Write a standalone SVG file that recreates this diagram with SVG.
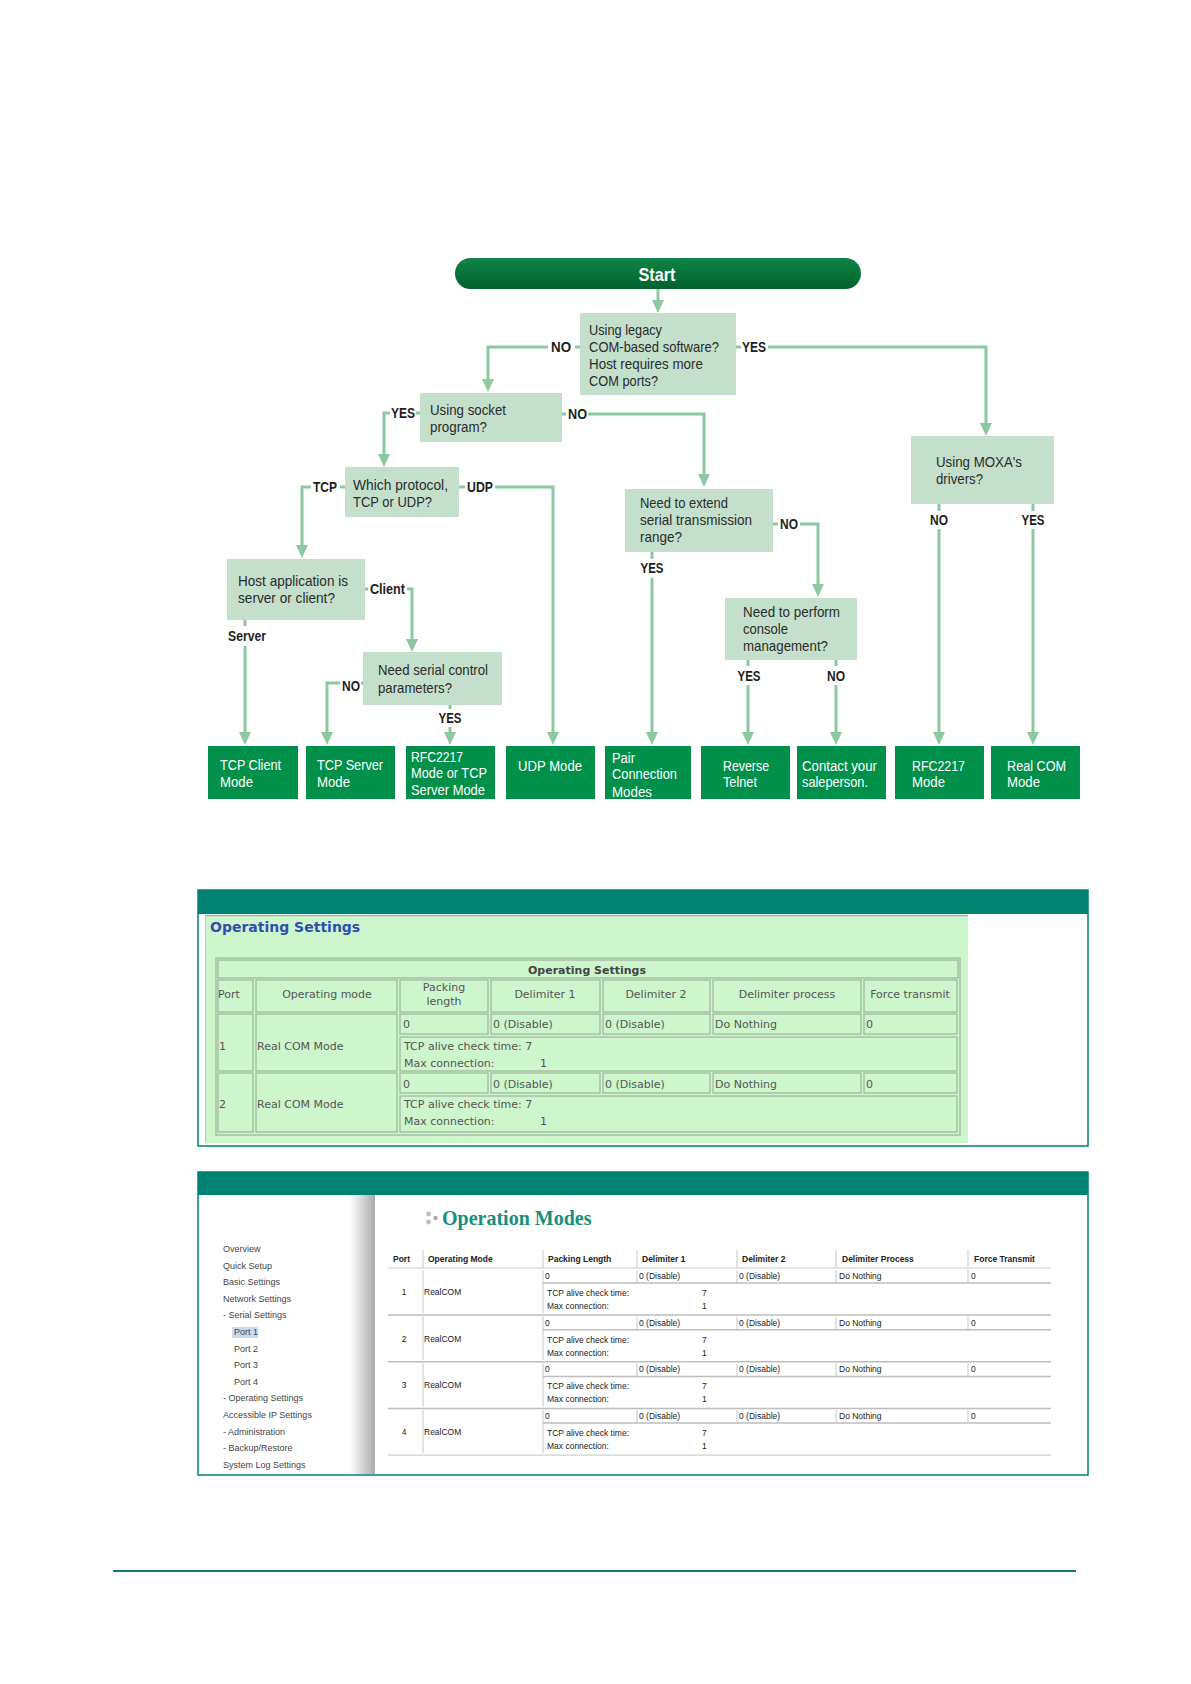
<svg xmlns="http://www.w3.org/2000/svg" width="1191" height="1684" viewBox="0 0 1191 1684">
<style>
.q{fill:#c4dfcb}
.qt{font-family:'Liberation Sans',Arial,sans-serif;font-size:15px;fill:#2b2b2b}
.lb{font-family:'Liberation Sans',Arial,sans-serif;font-size:14.5px;font-weight:bold;fill:#1e1e1e}
.r{fill:#00904a}
.rt{font-family:'Liberation Sans',Arial,sans-serif;font-size:15.5px;fill:#ffffff}
.c{fill:none;stroke:#8cc9a0;stroke-width:3}
.a{marker-end:url(#ah)}
.t1{font-family:'DejaVu Sans',sans-serif;font-size:11px;fill:#555}
.t1b{font-family:'DejaVu Sans',sans-serif;font-size:11px;font-weight:bold;fill:#444}
.cell{fill:none;stroke:#9fb39f;stroke-width:1.2}
.t2{font-family:'Liberation Sans',Arial,sans-serif;font-size:8.5px;fill:#222}
.t2b{font-family:'Liberation Sans',Arial,sans-serif;font-size:8.5px;font-weight:bold;fill:#222}
.sb{font-family:'Liberation Sans',Arial,sans-serif;font-size:9px;fill:#444}
.g2{stroke:#cfcfcf;stroke-width:1.2;fill:none}
.g3{stroke:#bdbdbd;stroke-width:1.5;fill:none}
</style>
<defs>
<marker id="ah" viewBox="0 0 13 12" refX="5" refY="6" markerWidth="13" markerHeight="12" markerUnits="userSpaceOnUse" orient="auto">
<path d="M0,0 L13,6 L0,12 z" fill="#8cc9a0"/>
</marker>
<linearGradient id="sg" x1="0" y1="0" x2="0" y2="1">
<stop offset="0" stop-color="#0f8445"/>
<stop offset="1" stop-color="#00622f"/>
</linearGradient>
<linearGradient id="sh" x1="0" y1="0" x2="1" y2="0">
<stop offset="0" stop-color="#ffffff"/>
<stop offset="1" stop-color="#a9a9a9"/>
</linearGradient>
</defs>
<rect x="0" y="0" width="1191" height="1684" fill="#ffffff"/>

<g id="connectors">
<path class="c a" d="M658,289 V305"/>
<path class="c" d="M580,347 H575"/>
<path class="c a" d="M548,347 H488 V384"/>
<path class="c" d="M736,347 H741"/>
<path class="c a" d="M768,347 H986 V428"/>
<path class="c" d="M420,413 H416"/>
<path class="c a" d="M390,413 H384 V459"/>
<path class="c" d="M562,414 H566"/>
<path class="c a" d="M588,414 H704 V479"/>
<path class="c" d="M345,487 H340"/>
<path class="c a" d="M311,487 H302 V550"/>
<path class="c" d="M459,487 H465"/>
<path class="c a" d="M495,487 H553 V737"/>
<path class="c" d="M365,589 H368"/>
<path class="c a" d="M407,589 H412 V644"/>
<path class="c" d="M245,620 V626"/>
<path class="c a" d="M245,646 V737"/>
<path class="c" d="M363,683 H361"/>
<path class="c a" d="M340,683 H327 V737"/>
<path class="c" d="M450,705 V709"/>
<path class="c a" d="M450,727 V737"/>
<path class="c" d="M773,524 H778"/>
<path class="c a" d="M800,524 H818 V589"/>
<path class="c" d="M652,552 V559"/>
<path class="c a" d="M652,578 V737"/>
<path class="c" d="M748,660 V666"/>
<path class="c a" d="M748,685 V737"/>
<path class="c" d="M836,660 V666"/>
<path class="c a" d="M836,685 V737"/>
<path class="c" d="M939,504 V511"/>
<path class="c a" d="M939,529 V737"/>
<path class="c" d="M1033,504 V511"/>
<path class="c a" d="M1033,529 V737"/>
<text class="lb" x="551" y="352" textLength="20" lengthAdjust="spacingAndGlyphs">NO</text>
<text class="lb" x="742" y="352" textLength="24" lengthAdjust="spacingAndGlyphs">YES</text>
<text class="lb" x="391" y="418" textLength="24" lengthAdjust="spacingAndGlyphs">YES</text>
<text class="lb" x="568" y="419" textLength="19" lengthAdjust="spacingAndGlyphs">NO</text>
<text class="lb" x="313" y="492" textLength="24" lengthAdjust="spacingAndGlyphs">TCP</text>
<text class="lb" x="467" y="492" textLength="26" lengthAdjust="spacingAndGlyphs">UDP</text>
<text class="lb" x="370" y="594" textLength="35" lengthAdjust="spacingAndGlyphs">Client</text>
<text class="lb" x="247" y="641" text-anchor="middle" textLength="38" lengthAdjust="spacingAndGlyphs">Server</text>
<text class="lb" x="342" y="691" textLength="18" lengthAdjust="spacingAndGlyphs">NO</text>
<text class="lb" x="450" y="723" text-anchor="middle" textLength="23" lengthAdjust="spacingAndGlyphs">YES</text>
<text class="lb" x="780" y="529" textLength="18" lengthAdjust="spacingAndGlyphs">NO</text>
<text class="lb" x="652" y="573" text-anchor="middle" textLength="23" lengthAdjust="spacingAndGlyphs">YES</text>
<text class="lb" x="749" y="681" text-anchor="middle" textLength="23" lengthAdjust="spacingAndGlyphs">YES</text>
<text class="lb" x="836" y="681" text-anchor="middle" textLength="18" lengthAdjust="spacingAndGlyphs">NO</text>
<text class="lb" x="939" y="525" text-anchor="middle" textLength="18" lengthAdjust="spacingAndGlyphs">NO</text>
<text class="lb" x="1033" y="525" text-anchor="middle" textLength="23" lengthAdjust="spacingAndGlyphs">YES</text>
</g>

<g id="start">
<rect x="455" y="258" width="406" height="31" rx="15.5" fill="url(#sg)"/>
<text x="657" y="281" text-anchor="middle" font-family="'Liberation Sans',Arial,sans-serif" font-size="19" font-weight="bold" fill="#ffffff" textLength="37" lengthAdjust="spacingAndGlyphs">Start</text>
</g>
<g id="q-legacy">
<rect class="q" x="580" y="313" width="156" height="82"/>
<text class="qt" x="589" y="335" textLength="73" lengthAdjust="spacingAndGlyphs">Using legacy</text>
<text class="qt" x="589" y="352" textLength="130" lengthAdjust="spacingAndGlyphs">COM-based software?</text>
<text class="qt" x="589" y="369" textLength="114" lengthAdjust="spacingAndGlyphs">Host requires more</text>
<text class="qt" x="589" y="386" textLength="69" lengthAdjust="spacingAndGlyphs">COM ports?</text>
</g>
<g id="q-socket">
<rect class="q" x="420" y="393" width="142" height="49"/>
<text class="qt" x="430" y="415" textLength="76" lengthAdjust="spacingAndGlyphs">Using socket</text>
<text class="qt" x="430" y="432" textLength="57" lengthAdjust="spacingAndGlyphs">program?</text>
</g>
<g id="q-protocol">
<rect class="q" x="345" y="467" width="114" height="50"/>
<text class="qt" x="353" y="490" textLength="95" lengthAdjust="spacingAndGlyphs">Which protocol,</text>
<text class="qt" x="353" y="507" textLength="79" lengthAdjust="spacingAndGlyphs">TCP or UDP?</text>
</g>
<g id="q-host">
<rect class="q" x="227" y="559" width="138" height="61"/>
<text class="qt" x="238" y="586" textLength="110" lengthAdjust="spacingAndGlyphs">Host application is</text>
<text class="qt" x="238" y="603" textLength="97" lengthAdjust="spacingAndGlyphs">server or client?</text>
</g>
<g id="q-serial">
<rect class="q" x="363" y="652" width="139" height="53"/>
<text class="qt" x="378" y="675" textLength="110" lengthAdjust="spacingAndGlyphs">Need serial control</text>
<text class="qt" x="378" y="693" textLength="74" lengthAdjust="spacingAndGlyphs">parameters?</text>
</g>
<g id="q-extend">
<rect class="q" x="625" y="489" width="148" height="63"/>
<text class="qt" x="640" y="508" textLength="88" lengthAdjust="spacingAndGlyphs">Need to extend</text>
<text class="qt" x="640" y="525" textLength="112" lengthAdjust="spacingAndGlyphs">serial transmission</text>
<text class="qt" x="640" y="542" textLength="42" lengthAdjust="spacingAndGlyphs">range?</text>
</g>
<g id="q-console">
<rect class="q" x="725" y="598" width="132" height="62"/>
<text class="qt" x="743" y="617" textLength="97" lengthAdjust="spacingAndGlyphs">Need to perform</text>
<text class="qt" x="743" y="634" textLength="45" lengthAdjust="spacingAndGlyphs">console</text>
<text class="qt" x="743" y="651" textLength="85" lengthAdjust="spacingAndGlyphs">management?</text>
</g>
<g id="q-moxa">
<rect class="q" x="911" y="436" width="143" height="68"/>
<text class="qt" x="936" y="467" textLength="86" lengthAdjust="spacingAndGlyphs">Using MOXA's</text>
<text class="qt" x="936" y="484" textLength="47" lengthAdjust="spacingAndGlyphs">drivers?</text>
</g>

<g id="r-tcpclient">
<rect class="r" x="208" y="746" width="90" height="53"/>
<text class="rt" x="220" y="770" textLength="61" lengthAdjust="spacingAndGlyphs">TCP Client</text>
<text class="rt" x="220" y="787" textLength="33" lengthAdjust="spacingAndGlyphs">Mode</text>
</g>
<g id="r-tcpserver">
<rect class="r" x="306" y="746" width="89" height="53"/>
<text class="rt" x="317" y="770" textLength="66" lengthAdjust="spacingAndGlyphs">TCP Server</text>
<text class="rt" x="317" y="787" textLength="33" lengthAdjust="spacingAndGlyphs">Mode</text>
</g>
<g id="r-rfc-tcp">
<rect class="r" x="406" y="746" width="89" height="53"/>
<text class="rt" x="411" y="762" textLength="52" lengthAdjust="spacingAndGlyphs">RFC2217</text>
<text class="rt" x="411" y="778" textLength="76" lengthAdjust="spacingAndGlyphs">Mode or TCP</text>
<text class="rt" x="411" y="795" textLength="74" lengthAdjust="spacingAndGlyphs">Server Mode</text>
</g>
<g id="r-udp">
<rect class="r" x="506" y="746" width="89" height="53"/>
<text class="rt" x="518" y="771" textLength="64" lengthAdjust="spacingAndGlyphs">UDP Mode</text>
</g>
<g id="r-pair">
<rect class="r" x="605" y="746" width="86" height="53"/>
<text class="rt" x="612" y="763" textLength="23" lengthAdjust="spacingAndGlyphs">Pair</text>
<text class="rt" x="612" y="779" textLength="65" lengthAdjust="spacingAndGlyphs">Connection</text>
<text class="rt" x="612" y="797" textLength="40" lengthAdjust="spacingAndGlyphs">Modes</text>
</g>
<g id="r-reverse">
<rect class="r" x="701" y="746" width="89" height="53"/>
<text class="rt" x="723" y="771" textLength="46" lengthAdjust="spacingAndGlyphs">Reverse</text>
<text class="rt" x="723" y="787" textLength="34" lengthAdjust="spacingAndGlyphs">Telnet</text>
</g>
<g id="r-contact">
<rect class="r" x="797" y="746" width="89" height="53"/>
<text class="rt" x="802" y="771" textLength="75" lengthAdjust="spacingAndGlyphs">Contact your</text>
<text class="rt" x="802" y="787" textLength="66" lengthAdjust="spacingAndGlyphs">saleperson.</text>
</g>
<g id="r-rfc">
<rect class="r" x="895" y="746" width="89" height="53"/>
<text class="rt" x="912" y="771" textLength="53" lengthAdjust="spacingAndGlyphs">RFC2217</text>
<text class="rt" x="912" y="787" textLength="33" lengthAdjust="spacingAndGlyphs">Mode</text>
</g>
<g id="r-realcom">
<rect class="r" x="991" y="746" width="89" height="53"/>
<text class="rt" x="1007" y="771" textLength="59" lengthAdjust="spacingAndGlyphs">Real COM</text>
<text class="rt" x="1007" y="787" textLength="33" lengthAdjust="spacingAndGlyphs">Mode</text>
</g>

<!-- Screenshot 1 -->
<g id="screenshot-operating-settings">
<rect x="198" y="890" width="890" height="256" fill="#ffffff" stroke="#008272" stroke-width="1.5"/>
<rect x="198" y="890" width="890" height="24" fill="#008272"/>
<rect x="205" y="915" width="763" height="228" fill="#cdf6cd"/>
<line x1="205" y1="915.5" x2="968" y2="915.5" stroke="#9fb0b0" stroke-width="1.5"/>
<line x1="205.5" y1="915" x2="205.5" y2="1143" stroke="#b8c8c8" stroke-width="1"/>
<text x="210" y="932" font-family="'DejaVu Sans',sans-serif" font-size="14" font-weight="bold" fill="#2f4fae">Operating Settings</text>
<rect class="cell" x="216" y="958" width="744" height="177"/>
<rect class="cell" x="218" y="960" width="740" height="18"/>
<text class="t1b" x="587" y="974" text-anchor="middle">Operating Settings</text>
<rect class="cell" x="218" y="980" width="35" height="32"/>
<rect class="cell" x="256" y="980" width="141" height="32"/>
<rect class="cell" x="400" y="980" width="88" height="32"/>
<rect class="cell" x="491" y="980" width="109" height="32"/>
<rect class="cell" x="603" y="980" width="107" height="32"/>
<rect class="cell" x="713" y="980" width="148" height="32"/>
<rect class="cell" x="864" y="980" width="93" height="32"/>
<text class="t1" x="218" y="998">Port</text>
<text class="t1" x="327" y="998" text-anchor="middle">Operating mode</text>
<text class="t1" x="444" y="991" text-anchor="middle">Packing</text>
<text class="t1" x="444" y="1005" text-anchor="middle">length</text>
<text class="t1" x="545" y="998" text-anchor="middle">Delimiter 1</text>
<text class="t1" x="656" y="998" text-anchor="middle">Delimiter 2</text>
<text class="t1" x="787" y="998" text-anchor="middle">Delimiter process</text>
<text class="t1" x="910" y="998" text-anchor="middle">Force transmit</text>
<rect class="cell" x="218" y="1014" width="35" height="57"/>
<rect class="cell" x="256" y="1014" width="141" height="57"/>
<rect class="cell" x="400" y="1014" width="88" height="20"/>
<rect class="cell" x="491" y="1014" width="109" height="20"/>
<rect class="cell" x="603" y="1014" width="107" height="20"/>
<rect class="cell" x="713" y="1014" width="148" height="20"/>
<rect class="cell" x="864" y="1014" width="93" height="20"/>
<rect class="cell" x="400" y="1037" width="557" height="34"/>
<text class="t1" x="403" y="1028">0</text>
<text class="t1" x="493" y="1028">0 (Disable)</text>
<text class="t1" x="605" y="1028">0 (Disable)</text>
<text class="t1" x="715" y="1028">Do Nothing</text>
<text class="t1" x="866" y="1028">0</text>
<text class="t1" x="219" y="1050">1</text>
<text class="t1" x="257" y="1050">Real COM Mode</text>
<text class="t1" x="404" y="1050">TCP alive check time: 7</text>
<text class="t1" x="404" y="1067">Max connection:</text>
<text class="t1" x="540" y="1067">1</text>
<rect class="cell" x="218" y="1073" width="35" height="59"/>
<rect class="cell" x="256" y="1073" width="141" height="59"/>
<rect class="cell" x="400" y="1073" width="88" height="20"/>
<rect class="cell" x="491" y="1073" width="109" height="20"/>
<rect class="cell" x="603" y="1073" width="107" height="20"/>
<rect class="cell" x="713" y="1073" width="148" height="20"/>
<rect class="cell" x="864" y="1073" width="93" height="20"/>
<rect class="cell" x="400" y="1096" width="557" height="36"/>
<text class="t1" x="403" y="1088">0</text>
<text class="t1" x="493" y="1088">0 (Disable)</text>
<text class="t1" x="605" y="1088">0 (Disable)</text>
<text class="t1" x="715" y="1088">Do Nothing</text>
<text class="t1" x="866" y="1088">0</text>
<text class="t1" x="219" y="1108">2</text>
<text class="t1" x="257" y="1108">Real COM Mode</text>
<text class="t1" x="404" y="1108">TCP alive check time: 7</text>
<text class="t1" x="404" y="1125">Max connection:</text>
<text class="t1" x="540" y="1125">1</text>
</g>

<!-- Screenshot 2 -->
<g id="screenshot-operation-modes">
<rect x="198" y="1172" width="890" height="303" fill="#ffffff" stroke="#008272" stroke-width="1.5"/>
<rect x="198" y="1172" width="890" height="23" fill="#008272"/>
<rect x="350" y="1195" width="25" height="279" fill="url(#sh)"/>
<rect x="232" y="1327" width="26" height="11" fill="#c9d9f2"/>
<text class="sb" x="223" y="1252">Overview</text>
<text class="sb" x="223" y="1268.6">Quick Setup</text>
<text class="sb" x="223" y="1285.2">Basic Settings</text>
<text class="sb" x="223" y="1301.8">Network Settings</text>
<text class="sb" x="223" y="1318.4">- Serial Settings</text>
<text class="sb" x="234" y="1335">Port 1</text>
<text class="sb" x="234" y="1351.6">Port 2</text>
<text class="sb" x="234" y="1368.2">Port 3</text>
<text class="sb" x="234" y="1384.8">Port 4</text>
<text class="sb" x="223" y="1401.4">- Operating Settings</text>
<text class="sb" x="223" y="1418">Accessible IP Settings</text>
<text class="sb" x="223" y="1434.6">- Administration</text>
<text class="sb" x="223" y="1451.2">- Backup/Restore</text>
<text class="sb" x="223" y="1467.8">System Log Settings</text>
<circle cx="428.5" cy="1214" r="2.4" fill="#bdbdbd"/>
<circle cx="428.5" cy="1222" r="2.4" fill="#bdbdbd"/>
<circle cx="435.5" cy="1218" r="2.2" fill="#a8a8a8"/>
<text x="442" y="1225" font-family="'Liberation Serif','Times New Roman',serif" font-size="20" font-weight="bold" fill="#17907a">Operation Modes</text>
<line class="g2" x1="388" y1="1268" x2="1051" y2="1268"/>
<line class="g2" x1="423" y1="1250" x2="423" y2="1268"/>
<line class="g2" x1="543" y1="1250" x2="543" y2="1268"/>
<line class="g2" x1="637" y1="1250" x2="637" y2="1268"/>
<line class="g2" x1="737" y1="1250" x2="737" y2="1268"/>
<line class="g2" x1="836" y1="1250" x2="836" y2="1268"/>
<line class="g2" x1="968" y1="1250" x2="968" y2="1268"/>
<text class="t2b" x="393" y="1262">Port</text>
<text class="t2b" x="428" y="1262">Operating Mode</text>
<text class="t2b" x="548" y="1262">Packing Length</text>
<text class="t2b" x="642" y="1262">Delimiter 1</text>
<text class="t2b" x="742" y="1262">Delimiter 2</text>
<text class="t2b" x="842" y="1262">Delimiter Process</text>
<text class="t2b" x="974" y="1262">Force Transmit</text>
<g id="om-row1">
<line class="g2" x1="423" y1="1270" x2="423" y2="1313"/>
<line class="g2" x1="543" y1="1270" x2="543" y2="1313"/>
<line class="g2" x1="637" y1="1270" x2="637" y2="1283"/>
<line class="g2" x1="737" y1="1270" x2="737" y2="1283"/>
<line class="g2" x1="836" y1="1270" x2="836" y2="1283"/>
<line class="g2" x1="968" y1="1270" x2="968" y2="1283"/>
<line class="g3" x1="543" y1="1283" x2="1051" y2="1283"/>
<line class="g3" x1="388" y1="1315" x2="1051" y2="1315"/>
<text class="t2" x="545" y="1279">0</text>
<text class="t2" x="639" y="1279">0 (Disable)</text>
<text class="t2" x="739" y="1279">0 (Disable)</text>
<text class="t2" x="839" y="1279">Do Nothing</text>
<text class="t2" x="971" y="1279">0</text>
<text class="t2" x="404" y="1295" text-anchor="middle">1</text>
<text class="t2" x="424" y="1295">RealCOM</text>
<text class="t2" x="547" y="1296">TCP alive check time:</text>
<text class="t2" x="702" y="1296">7</text>
<text class="t2" x="547" y="1309">Max connection:</text>
<text class="t2" x="702" y="1309">1</text>
</g>
<g id="om-row2" transform="translate(0,46.7)">
<line class="g2" x1="423" y1="1270" x2="423" y2="1313"/>
<line class="g2" x1="543" y1="1270" x2="543" y2="1313"/>
<line class="g2" x1="637" y1="1270" x2="637" y2="1283"/>
<line class="g2" x1="737" y1="1270" x2="737" y2="1283"/>
<line class="g2" x1="836" y1="1270" x2="836" y2="1283"/>
<line class="g2" x1="968" y1="1270" x2="968" y2="1283"/>
<line class="g3" x1="543" y1="1283" x2="1051" y2="1283"/>
<line class="g3" x1="388" y1="1315" x2="1051" y2="1315"/>
<text class="t2" x="545" y="1279">0</text>
<text class="t2" x="639" y="1279">0 (Disable)</text>
<text class="t2" x="739" y="1279">0 (Disable)</text>
<text class="t2" x="839" y="1279">Do Nothing</text>
<text class="t2" x="971" y="1279">0</text>
<text class="t2" x="404" y="1295" text-anchor="middle">2</text>
<text class="t2" x="424" y="1295">RealCOM</text>
<text class="t2" x="547" y="1296">TCP alive check time:</text>
<text class="t2" x="702" y="1296">7</text>
<text class="t2" x="547" y="1309">Max connection:</text>
<text class="t2" x="702" y="1309">1</text>
</g>
<g id="om-row3" transform="translate(0,93.4)">
<line class="g2" x1="423" y1="1270" x2="423" y2="1313"/>
<line class="g2" x1="543" y1="1270" x2="543" y2="1313"/>
<line class="g2" x1="637" y1="1270" x2="637" y2="1283"/>
<line class="g2" x1="737" y1="1270" x2="737" y2="1283"/>
<line class="g2" x1="836" y1="1270" x2="836" y2="1283"/>
<line class="g2" x1="968" y1="1270" x2="968" y2="1283"/>
<line class="g3" x1="543" y1="1283" x2="1051" y2="1283"/>
<line class="g3" x1="388" y1="1315" x2="1051" y2="1315"/>
<text class="t2" x="545" y="1279">0</text>
<text class="t2" x="639" y="1279">0 (Disable)</text>
<text class="t2" x="739" y="1279">0 (Disable)</text>
<text class="t2" x="839" y="1279">Do Nothing</text>
<text class="t2" x="971" y="1279">0</text>
<text class="t2" x="404" y="1295" text-anchor="middle">3</text>
<text class="t2" x="424" y="1295">RealCOM</text>
<text class="t2" x="547" y="1296">TCP alive check time:</text>
<text class="t2" x="702" y="1296">7</text>
<text class="t2" x="547" y="1309">Max connection:</text>
<text class="t2" x="702" y="1309">1</text>
</g>
<g id="om-row4" transform="translate(0,140.1)">
<line class="g2" x1="423" y1="1270" x2="423" y2="1313"/>
<line class="g2" x1="543" y1="1270" x2="543" y2="1313"/>
<line class="g2" x1="637" y1="1270" x2="637" y2="1283"/>
<line class="g2" x1="737" y1="1270" x2="737" y2="1283"/>
<line class="g2" x1="836" y1="1270" x2="836" y2="1283"/>
<line class="g2" x1="968" y1="1270" x2="968" y2="1283"/>
<line class="g3" x1="543" y1="1283" x2="1051" y2="1283"/>
<line class="g2" x1="388" y1="1315" x2="1051" y2="1315"/>
<text class="t2" x="545" y="1279">0</text>
<text class="t2" x="639" y="1279">0 (Disable)</text>
<text class="t2" x="739" y="1279">0 (Disable)</text>
<text class="t2" x="839" y="1279">Do Nothing</text>
<text class="t2" x="971" y="1279">0</text>
<text class="t2" x="404" y="1295" text-anchor="middle">4</text>
<text class="t2" x="424" y="1295">RealCOM</text>
<text class="t2" x="547" y="1296">TCP alive check time:</text>
<text class="t2" x="702" y="1296">7</text>
<text class="t2" x="547" y="1309">Max connection:</text>
<text class="t2" x="702" y="1309">1</text>
</g>
</g>

<line x1="113" y1="1571" x2="1076" y2="1571" stroke="#137a70" stroke-width="2"/>
</svg>
